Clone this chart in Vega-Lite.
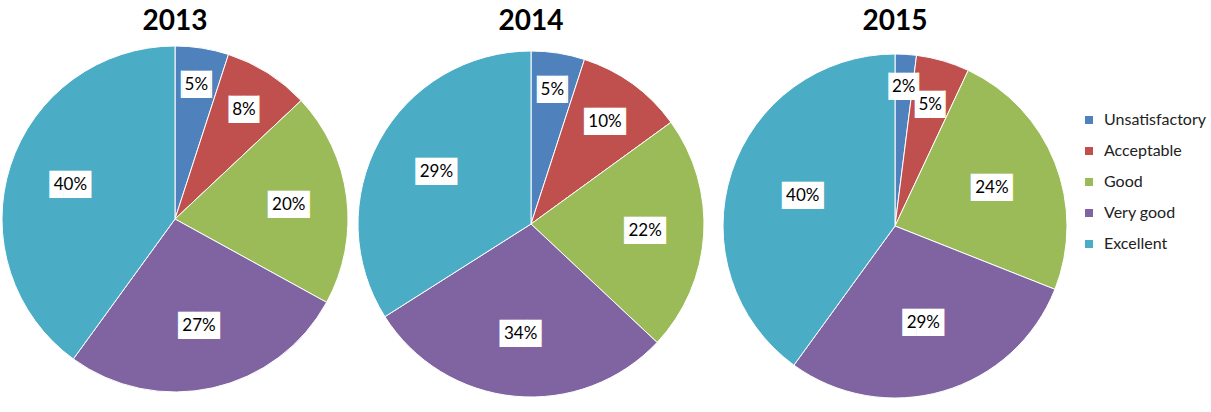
{
  "$schema": "https://vega.github.io/schema/vega-lite/v6.json",
  "padding": {"left": 0, "top": 8, "right": 0, "bottom": 0},
  "background": "white",
  "spacing": 6,
  "config": {
    "view": {"stroke": null},
    "font": "Lato",
    "title": {"font": "Lato", "fontSize": 28, "fontWeight": "bold", "color": "#000000", "offset": 8}
  },
  "datasets": {
    "d": [
      {"year": 2013, "k": 1, "cat": "Unsatisfactory", "v": 5, "label": "5%"},
      {"year": 2013, "k": 2, "cat": "Acceptable", "v": 8, "label": "8%"},
      {"year": 2013, "k": 3, "cat": "Good", "v": 20, "label": "20%"},
      {"year": 2013, "k": 4, "cat": "Very good", "v": 27, "label": "27%"},
      {"year": 2013, "k": 5, "cat": "Excellent", "v": 40, "label": "40%"},
      {"year": 2014, "k": 1, "cat": "Unsatisfactory", "v": 5, "label": "5%"},
      {"year": 2014, "k": 2, "cat": "Acceptable", "v": 10, "label": "10%"},
      {"year": 2014, "k": 3, "cat": "Good", "v": 22, "label": "22%"},
      {"year": 2014, "k": 4, "cat": "Very good", "v": 29, "label": "34%"},
      {"year": 2014, "k": 5, "cat": "Excellent", "v": 34, "label": "29%"},
      {"year": 2015, "k": 1, "cat": "Unsatisfactory", "v": 2, "label": "2%"},
      {"year": 2015, "k": 2, "cat": "Acceptable", "v": 5, "label": "5%"},
      {"year": 2015, "k": 3, "cat": "Good", "v": 24, "label": "24%"},
      {"year": 2015, "k": 4, "cat": "Very good", "v": 29, "label": "29%"},
      {"year": 2015, "k": 5, "cat": "Excellent", "v": 40, "label": "40%"}
    ]
  },
  "resolve": {"scale": {"color": "shared"}},
  "hconcat": [
    {
      "title": "2013",
      "width": 350, "height": 350,
      "data": {"name": "d"},
      "transform": [{"filter": "datum.year == 2013"}],
      "encoding": {
        "theta": {"field": "v", "type": "quantitative", "stack": true},
        "order": {"field": "k", "type": "quantitative", "sort": "ascending"},
        "color": {"field": "cat", "type": "nominal", "title": null,
          "scale": {"domain": ["Unsatisfactory", "Acceptable", "Good", "Very good", "Excellent"], "range": ["#4F81BD", "#C0504D", "#9BBB59", "#8064A2", "#4BACC6"]},
          "legend": {"orient": "none", "legendX": 1081, "legendY": 68, "padding": 0, "symbolType": "square", "symbolSize": 64, "symbolStrokeWidth": 0, "labelFont": "Lato", "labelFontSize": 16, "labelColor": "#222222", "labelOffset": 7, "rowPadding": 15}}
      },
      "layer": [
        {"mark": {"type": "arc", "outerRadius": 173, "stroke": "white", "strokeWidth": 1}},
        {"mark": {"type": "text", "font": "DejaVu Sans Mono", "fontSize": 23},
         "encoding": {"radius": {"field": "v", "type": "quantitative", "scale": {"type": "log", "domain": [5, 27], "range": [136, 110], "clamp": true}},
           "color": {"value": "white"}, "text": {"condition": {"test": "length(datum.label) > 2", "value": "███"}, "value": "▕██▏"}}},
        {"mark": {"type": "text", "font": "Lato", "fontSize": 17},
         "encoding": {"radius": {"field": "v", "type": "quantitative"}, "color": {"value": "black"}, "text": {"field": "label"}}}
      ]
    },
    {
      "title": "2014",
      "width": 350, "height": 360,
      "data": {"name": "d"},
      "transform": [{"filter": "datum.year == 2014"}],
      "encoding": {
        "theta": {"field": "v", "type": "quantitative", "stack": true},
        "order": {"field": "k", "type": "quantitative", "sort": "ascending"},
        "color": {"field": "cat", "type": "nominal", "title": null}
      },
      "layer": [
        {"mark": {"type": "arc", "outerRadius": 173, "stroke": "white", "strokeWidth": 1}},
        {"mark": {"type": "text", "font": "DejaVu Sans Mono", "fontSize": 23},
         "encoding": {"radius": {"field": "v", "type": "quantitative", "scale": {"type": "log", "domain": [5, 34], "range": [136, 108]}},
           "color": {"value": "white"}, "text": {"condition": {"test": "length(datum.label) > 2", "value": "███"}, "value": "▕██▏"}}},
        {"mark": {"type": "text", "font": "Lato", "fontSize": 17},
         "encoding": {"radius": {"field": "v", "type": "quantitative"}, "color": {"value": "black"}, "text": {"field": "label"}}}
      ]
    },
    {
      "title": "2015",
      "width": 366, "height": 364,
      "data": {"name": "d"},
      "transform": [{"filter": "datum.year == 2015"}],
      "encoding": {
        "theta": {"field": "v", "type": "quantitative", "stack": true},
        "order": {"field": "k", "type": "quantitative", "sort": "ascending"},
        "color": {"field": "cat", "type": "nominal", "title": null}
      },
      "layer": [
        {"mark": {"type": "arc", "outerRadius": 172, "stroke": "white", "strokeWidth": 1}},
        {"mark": {"type": "text", "font": "DejaVu Sans Mono", "fontSize": 23},
         "encoding": {"radius": {"field": "v", "type": "quantitative", "scale": {"type": "log", "domain": [2, 40], "range": [139, 97]}},
           "color": {"value": "white"}, "text": {"condition": {"test": "length(datum.label) > 2", "value": "███"}, "value": "▕██▏"}}},
        {"mark": {"type": "text", "font": "Lato", "fontSize": 17},
         "encoding": {"radius": {"field": "v", "type": "quantitative"}, "color": {"value": "black"}, "text": {"field": "label"}}}
      ]
    }
  ]
}
